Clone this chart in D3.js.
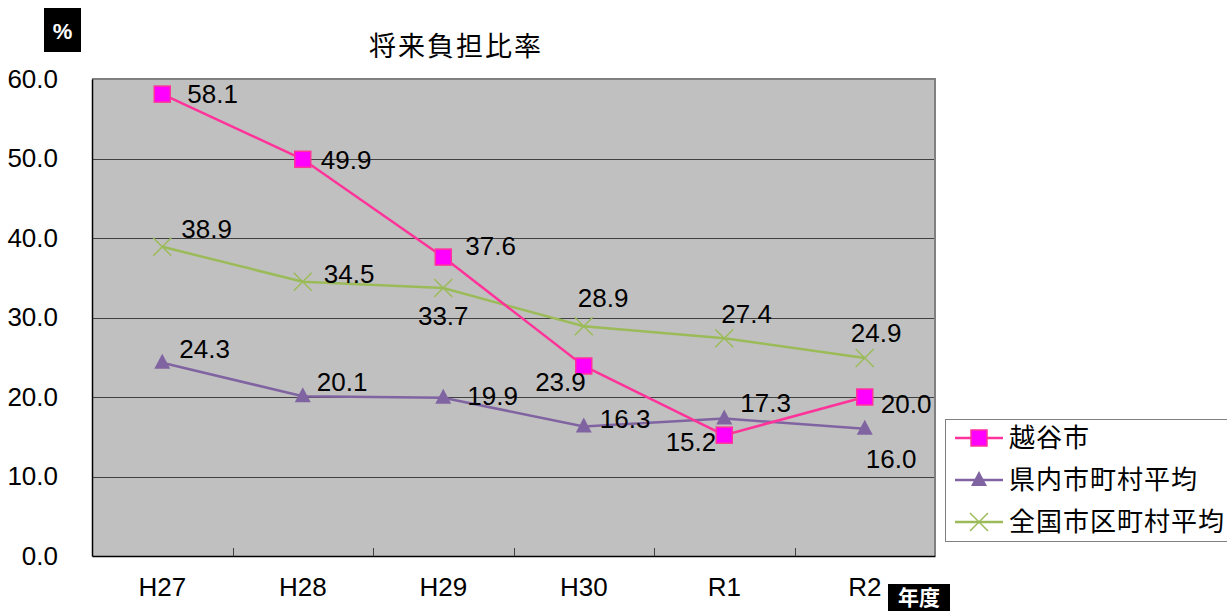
<!DOCTYPE html>
<html>
  <head>
    <meta charset="utf-8">
    <title>将来負担比率</title>
    <script src="https://d3js.org/d3.v7.min.js"></script>
    <style>
      body { margin: 0; background: #fff; }
      text { font-family: "Liberation Sans Narrow", "Liberation Sans", "Noto Sans CJK JP", sans-serif; fill: #000; }
      .jp { font-family: "Noto Sans CJK JP", sans-serif; }
    </style>
  </head>
  <body>
    <div id="chart"></div>
    <script>
      // Data
      var years = ["H27", "H28", "H29", "H30", "R1", "R2"];
      var koshigaya = [58.1, 49.9, 37.6, 23.9, 15.2, 20.0];
      var kennai = [24.3, 20.1, 19.9, 16.3, 17.3, 16.0];
      var zenkoku = [38.9, 34.5, 33.7, 28.9, 27.4, 24.9];
      var seriesNames = ["越谷市", "県内市町村平均", "全国市区町村平均"];
      var yTicks = [0, 10, 20, 30, 40, 50, 60];

      // label offsets (dx, dy, anchor) per point
      var koshigayaLbl = [[25,0,"start"],[18,0,"start"],[22,-11,"start"],[2,16,"end"],[-8,6,"end"],[16,7,"start"]];
      var kennaiLbl = [[17,-14,"start"],[14,-15,"start"],[24,-2,"start"],[16,-8,"start"],[16,-16,"start"],[1,30,"start"]];
      var zenkokuLbl = [[19,-18,"start"],[21,-8,"start"],[0,28,"middle"],[-6,-29,"start"],[-3,-25,"start"],[-14,-25,"start"]];

      var W = 1227, H = 611;
      var pL = 92, pR = 935, pT = 79, pB = 556;
      var numFont = 26;

      var svg = d3.select("#chart").append("svg")
        .attr("width", W).attr("height", H);

      var x = d3.scaleBand().domain(years).range([pL, pR]);
      var y = d3.scaleLinear().domain([0, 60]).range([pB, pT]);
      var cx = function(d) { return x(d) + x.bandwidth() / 2; };

      // plot background
      svg.append("rect")
        .attr("x", pL).attr("y", pT)
        .attr("width", pR - pL).attr("height", pB - pT)
        .attr("fill", "#c0c0c0");

      // gridlines
      svg.append("g").selectAll("line")
        .data(yTicks.filter(function(t) { return t > 0 && t < 60; }))
        .enter().append("line")
        .attr("x1", pL).attr("x2", pR)
        .attr("y1", function(d) { return Math.round(y(d)) + 0.5; })
        .attr("y2", function(d) { return Math.round(y(d)) + 0.5; })
        .attr("stroke", "#404040").attr("stroke-width", 1);

      // top & right border
      svg.append("path")
        .attr("d", "M" + pL + "," + pT + "H" + pR + "V" + pB)
        .attr("fill", "none").attr("stroke", "#808080").attr("stroke-width", 2);

      // axes
      var yAxis = svg.append("g")
        .attr("transform", "translate(" + pL + ",0)")
        .call(d3.axisLeft(y).tickValues(yTicks).tickSize(0).tickPadding(34)
          .tickFormat(d3.format(".1f")));
      yAxis.select(".domain").attr("stroke", "#000").attr("stroke-width", 1.5);
      yAxis.selectAll("text").attr("font-size", numFont).attr("fill", "#000")
        .attr("font-family", null);

      var xAxis = svg.append("g")
        .attr("transform", "translate(0," + pB + ")")
        .call(d3.axisBottom(x).tickSize(0).tickPadding(22));
      xAxis.select(".domain").attr("stroke", "#000").attr("stroke-width", 1.5);
      xAxis.selectAll("text").attr("font-size", numFont).attr("fill", "#000")
        .attr("font-family", null);

      // inside tick marks at category boundaries
      svg.append("g").selectAll("line")
        .data(years.slice(1))
        .enter().append("line")
        .attr("x1", function(d) { return Math.round(x(d)) + 0.5; })
        .attr("x2", function(d) { return Math.round(x(d)) + 0.5; })
        .attr("y1", pB).attr("y2", pB - 8)
        .attr("stroke", "#404040").attr("stroke-width", 1);

      var line = d3.line()
        .x(function(d, i) { return cx(years[i]); })
        .y(function(d) { return y(d); });

      var series = [
        { name: seriesNames[0], values: koshigaya, color: "#ff3399", marker: "square", lbl: koshigayaLbl },
        { name: seriesNames[1], values: kennai, color: "#8064a2", marker: "triangle", lbl: kennaiLbl },
        { name: seriesNames[2], values: zenkoku, color: "#9bbb59", marker: "x", lbl: zenkokuLbl }
      ];

      function drawMarker(g, s, px, py) {
        if (s.marker === "square") {
          g.append("rect").attr("x", px - 8).attr("y", py - 8)
            .attr("width", 16).attr("height", 16)
            .attr("fill", "#ff00ff").attr("stroke", "#ff3399").attr("stroke-width", 1.5);
        } else if (s.marker === "triangle") {
          g.append("path")
            .attr("d", "M" + px + "," + (py - 9) + "L" + (px + 8) + "," + (py + 6) + "L" + (px - 8) + "," + (py + 6) + "Z")
            .attr("fill", "#8064a2");
        } else {
          g.append("path")
            .attr("d", "M" + (px - 9) + "," + (py - 9) + "L" + (px + 9) + "," + (py + 9) + "M" + (px + 9) + "," + (py - 9) + "L" + (px - 9) + "," + (py + 9))
            .attr("stroke", "#9bbb59").attr("stroke-width", 1.5).attr("fill", "none");
        }
      }

      // draw order: 全国, 県内, 越谷市 on top
      [series[2], series[1], series[0]].forEach(function(s) {
        svg.append("path").datum(s.values)
          .attr("d", line)
          .attr("fill", "none").attr("stroke", s.color).attr("stroke-width", 2.5);
        var g = svg.append("g");
        s.values.forEach(function(v, i) {
          drawMarker(g, s, cx(years[i]), y(v));
        });
      });

      series.forEach(function(s) {
        svg.append("g").selectAll("text")
          .data(s.values)
          .enter().append("text")
          .attr("x", function(d, i) { return cx(years[i]) + s.lbl[i][0]; })
          .attr("y", function(d, i) { return y(d) + s.lbl[i][1]; })
          .attr("dy", "0.36em")
          .attr("text-anchor", function(d, i) { return s.lbl[i][2]; })
          .attr("font-size", numFont)
          .text(function(d) { return d3.format(".1f")(d); });
      });

      // title
      svg.append("text").attr("class", "jp")
        .attr("x", 456).attr("y", 46).attr("dy", "0.36em")
        .attr("text-anchor", "middle").attr("font-size", 27)
        .attr("letter-spacing", 2)
        .text("将来負担比率");

      // unit boxes
      svg.append("rect").attr("x", 44).attr("y", 8).attr("width", 37).attr("height", 44).attr("fill", "#000");
      svg.append("text").attr("x", 62.5).attr("y", 31).attr("dy", "0.36em")
        .attr("text-anchor", "middle").attr("font-size", 22).attr("font-weight", "bold")
        .attr("font-family", "Liberation Sans, sans-serif")
        .style("fill", "#fff").text("%");

      svg.append("rect").attr("x", 888).attr("y", 584).attr("width", 62).attr("height", 27).attr("fill", "#000");
      svg.append("text").attr("class", "jp").attr("x", 919).attr("y", 597).attr("dy", "0.36em")
        .attr("text-anchor", "middle").attr("font-size", 21).attr("font-weight", "bold")
        .style("fill", "#fff").text("年度");

      // legend
      var lg = svg.append("g");
      lg.append("rect").attr("x", 945.5).attr("y", 419.5).attr("width", 285).attr("height", 122)
        .attr("fill", "#fff").attr("stroke", "#808080").attr("stroke-width", 1);
      series.forEach(function(s, i) {
        var ly = 438 + i * 42;
        lg.append("line").attr("x1", 955).attr("x2", 1003).attr("y1", ly).attr("y2", ly)
          .attr("stroke", s.color).attr("stroke-width", 2.5);
        drawMarker(lg, s, 979, ly);
        lg.append("text").attr("class", "jp")
          .attr("x", 1009).attr("y", ly).attr("dy", "0.36em")
          .attr("font-size", 26).attr("letter-spacing", 1).text(s.name);
      });
    </script>
  </body>
</html>
